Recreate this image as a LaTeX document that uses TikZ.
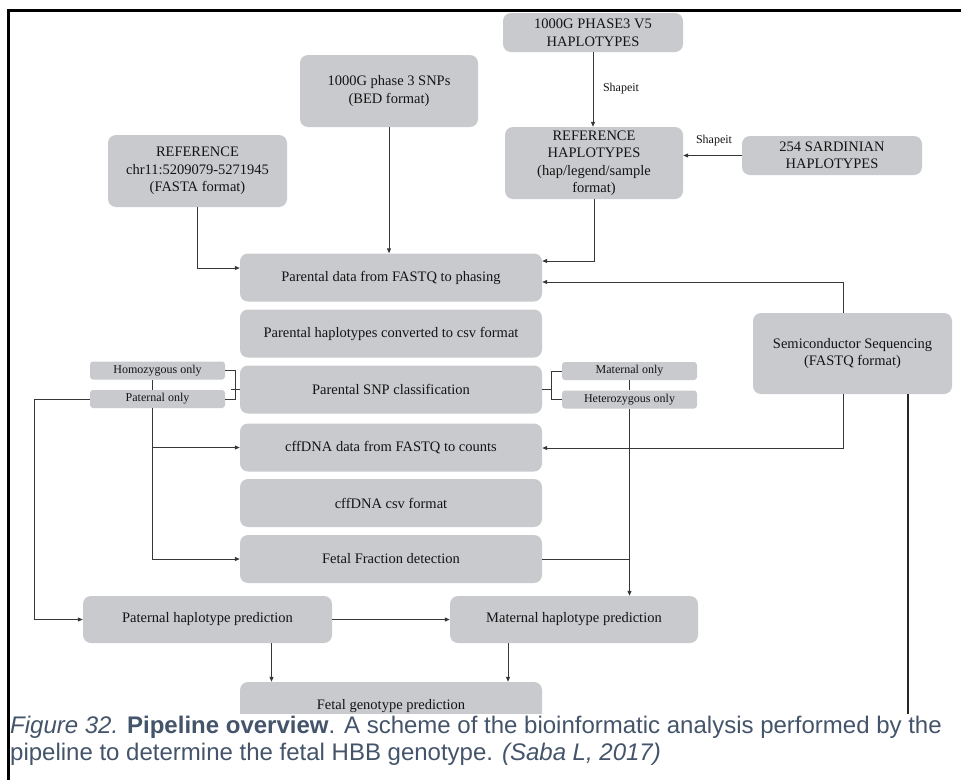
\documentclass[tikz,border=0pt]{standalone}
\usepackage{fontspec}
\setmainfont{Liberation Serif}
\newfontfamily\capfont{Liberation Sans}
\usetikzlibrary{arrows.meta}

\definecolor{boxgray}{RGB}{200,202,205}
\definecolor{linkgray}{RGB}{55,55,55}
\definecolor{captionblue}{RGB}{68,84,106}

\tikzset{
  box/.style={fill=boxgray, rounded corners=8pt, align=center, inner sep=0pt,
    text=black!92, font=\fontsize{14.5}{17.5}\selectfont},
  smallbox/.style={box, rounded corners=3pt, minimum width=135pt,
    minimum height=18pt, font=\fontsize{12}{14}\selectfont},
  link/.style={draw=linkgray, line width=1pt},
  conn/.style={link, -{Triangle[length=5pt,width=4pt]}},
  tag/.style={inner sep=0pt, text=black!92, font=\fontsize{12}{14}\selectfont},
}

\begin{document}
\begin{tikzpicture}[x=1pt,y=-1pt]
\useasboundingbox (0,0) rectangle (961,780);

% inputs
\node[box, minimum width=178pt, minimum height=72pt] (snps) at (389,91) {1000G phase 3 SNPs\\(BED format)};
\node[box, minimum width=179pt, minimum height=72pt] (refchr) at (197.5,171) {REFERENCE\\chr11:5209079-5271945\\(FASTA format)};
\node[box, minimum width=180pt, minimum height=39pt] (kgh) at (593,32.5) {1000G PHASE3 V5\\HAPLOTYPES};
\node[box, minimum width=178pt, minimum height=72pt] (refhap) at (594,163) {REFERENCE\\HAPLOTYPES\\(hap/legend/sample\\format)};
\node[box, minimum width=180pt, minimum height=39pt] (sard) at (832,155.5) {254 SARDINIAN\\HAPLOTYPES};
\node[box, minimum width=199pt, minimum height=81pt] (semi) at (852.5,353.5) {Semiconductor Sequencing\\(FASTQ format)};

% pipeline column
\foreach \name/\y/\txt in {phasing/277.5/Parental data from FASTQ to phasing,
    csv/333.5/Parental haplotypes converted to csv format,
    snpcl/389.5/Parental SNP classification,
    counts/447.5/cffDNA data from FASTQ to counts,
    cffcsv/503/cffDNA csv format,
    ff/559/Fetal Fraction detection}
  \node[box, minimum width=302pt, minimum height=48pt] (\name) at (391,\y) {\txt};

\node[box, minimum width=249pt, minimum height=47pt] (path) at (207.5,619.5) {Paternal haplotype prediction};
\node[box, minimum width=248pt, minimum height=47pt] (math) at (574,619.5) {Maternal haplotype prediction};
\node[box, minimum width=302pt, minimum height=48pt] (fgen) at (391,706) {Fetal genotype prediction};

% SNP classes
\node[smallbox] (homo) at (157.5,370.5) {Homozygous only};
\node[smallbox] (patonly) at (157.5,399) {Paternal only};
\node[smallbox] (matonly) at (629.5,371) {Maternal only};
\node[smallbox] (het) at (629.5,399.5) {Heterozygous only};

% reference panel
\draw[conn] (kgh.south) -- (kgh.south |- refhap.north);
\node[tag] (shp1) at (621,89) {Shapeit};
\draw[conn] (sard.west) -- (sard.west -| refhap.east);
\node[tag] (shp2) at (714,141) {Shapeit};

% into phasing
\draw[conn] (refchr.south) |- ([yshift=9.5pt]phasing.west);
\draw[conn] (snps.south) -- (snps.south |- phasing.north);
\draw[conn] (refhap.south) |- ([yshift=16.5pt]phasing.east);
\draw[conn] ([xshift=-9.5pt]semi.north) |- ([yshift=-4.5pt]phasing.east);
\draw[conn] ([xshift=-9.5pt]semi.south) |- ([yshift=-0.5pt]counts.east);
\coordinate (semiend) at (908,714);
\draw[line width=2pt, black!85] ([xshift=55.5pt]semi.south) -- (semiend);

% brackets
\draw[link] (homo.east) -- ++(10,0) |- (patonly.east);
\draw[link] (snpcl.west) -- ++(-9,0);
\draw[link] (matonly.west) -- ++(-10,0) |- (het.west);
\draw[link] (snpcl.east) -- ++(10,0);
\draw[link] ([xshift=-5pt]homo.south) -- ([xshift=-5pt]patonly.north);
\draw[link] (matonly.south) -- (het.north);

% paternal branch
\draw[conn] (patonly.west) -- ++(-55,0) |- (path.west);
\draw[conn] ([xshift=-5pt]patonly.south) |- (ff.west);
\draw[conn] ([xshift=-5pt]patonly.south |- counts.west) -- (counts.west);

% maternal branch
\draw[conn] (het.south) -- (het.south |- math.north);
\draw[link] (ff.east) -- (het.south |- ff.east);
\draw[conn] (path.east) -- (math.west);

% genotype
\draw[conn] ([xshift=64pt]path.south) -- ([xshift=64pt]path.south |- fgen.north);
\draw[conn] ([xshift=-66pt]math.south) -- ([xshift=-66pt]math.south |- fgen.north);

% caption band
\fill[white] (10,714) rectangle (961,780);
\node[anchor=base west, inner sep=0pt, text=captionblue, font=\capfont\fontsize{24}{28}\selectfont] (cap1) at (10,733)
  {\textit{Figure 32.} \textbf{Pipeline overview}. A scheme of the bioinformatic analysis performed by the};
\node[anchor=base west, inner sep=0pt, text=captionblue, font=\capfont\fontsize{24}{28}\selectfont] (cap2) at (10,760)
  {pipeline to determine the fetal HBB genotype. \textit{(Saba L, 2017)}};

% frame
\draw[line width=2.5pt] (8,10.5) -- (961,10.5);
\draw[line width=3pt] (8.5,9.25) -- (8.5,780);
\end{tikzpicture}
\end{document}
